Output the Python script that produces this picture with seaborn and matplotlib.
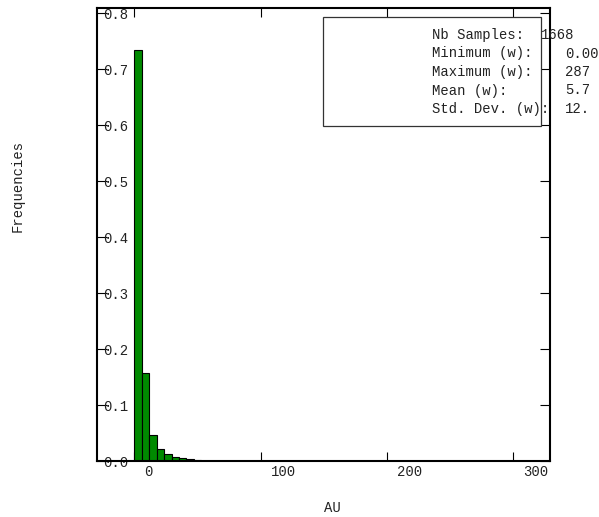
import numpy as np
import pandas as pd
import matplotlib
matplotlib.use("Agg")
import matplotlib.pyplot as plt
import matplotlib.transforms as mtransforms
from matplotlib.patches import Rectangle
import seaborn as sns

# histogram of AU values, 49 bins starting at 0
bin_start = 0.0
bin_width = 5.9
frequencies = [0.735, 0.158, 0.047, 0.0214, 0.0130, 0.0071, 0.0054, 0.0040,
               0.0018, 0.0012, 0.0012, 0.0006, 0.0012, 0.0, 0.0006, 0.0006,
               0.0, 0.0006, 0.0, 0.0, 0.0006, 0.0, 0.0, 0.0, 0.0, 0.0, 0.0,
               0.0, 0.0, 0.0, 0.0, 0.0, 0.0, 0.0, 0.0, 0.0, 0.0, 0.0, 0.0,
               0.0, 0.0, 0.0, 0.0, 0.0, 0.0, 0.0, 0.0, 0.0, 0.0006]
xticks = [0, 100, 200, 300]
yticks = [0.0, 0.1, 0.2, 0.3, 0.4, 0.5, 0.6, 0.7, 0.8]
ytick_labels = ["0.0", "0.1", "0.2", "0.3", "0.4", "0.5", "0.6", "0.7", "0.8"]

stat_names = ["Nb Samples:", "Minimum (w):", "Maximum (w):", "Mean (w):", "Std. Dev. (w):"]
stat_values = ["1668", "0.00", "287", "5.7", "12."]

sns.set_style("ticks")
plt.rcParams['font.family'] = ['Liberation Mono', 'DejaVu Sans Mono']
plt.rcParams['font.size'] = 10

W, H = 599, 517
fig = plt.figure(figsize=(W / 100, H / 100), dpi=100)
ax = fig.add_axes([96.7 / W, 1 - 461.3 / H, (550 - 96.7) / W, (461.3 - 8) / H])

edges = bin_start + bin_width * np.arange(len(frequencies) + 1)
df = pd.DataFrame({"AU": (edges[:-1] + edges[1:]) / 2, "freq": frequencies})
sns.histplot(data=df, x="AU", weights="freq", bins=edges.tolist(), stat="count",
             color="#008a00", edgecolor="black", linewidth=0.8, alpha=1.0, ax=ax)

ax.set_xlim(-29.7, 328.9)
ax.set_ylim(0, 0.8095)
ax.set_xlabel("")
ax.set_ylabel("")

ax.set_xticks(xticks)
ax.set_xticklabels([str(t) for t in xticks], ha="left")
ax.set_yticks(yticks)
ax.set_yticklabels(ytick_labels, ha="left")

ax.tick_params(axis="x", direction="in", length=6.5, width=0.8, pad=3,
               top=True, bottom=True, colors="black", labelcolor="#222222")
ax.tick_params(axis="y", direction="in", length=7, width=0.8, pad=-4.3,
               left=True, right=True, colors="black", labelcolor="#222222")
ax.minorticks_off()

for s in ax.spines.values():
    s.set_linewidth(1.5)
    s.set_color("black")

# x tick labels sit a bit to the right of their ticks
offset = mtransforms.ScaledTranslation(10 / 100, 0, fig.dpi_scale_trans)
for label in ax.xaxis.get_majorticklabels():
    label.set_transform(label.get_transform() + offset)

fig.text(18 / W, 1 - 186 / H, "Frequencies", rotation=90, ha="center", va="center",
         fontsize=10, color="#222222")
fig.text(332 / W, 1 - 508 / H, "AU", ha="center", va="center", fontsize=10, color="#222222")

# statistics box
box = Rectangle((323 / W, 1 - 126 / H), (541 - 323) / W, (126 - 17) / H,
                transform=fig.transFigure, facecolor="white", edgecolor="#333333",
                linewidth=0.9, zorder=5)
fig.patches.append(box)
line_y = [35, 53.5, 72, 90.5, 109]
for name, val, yy in zip(stat_names, stat_values, line_y):
    fig.text(431.7 / W, 1 - yy / H, name, ha="left", va="center", fontsize=10,
             color="#222222", zorder=6)
    vx = 541 if name.startswith("Nb") else 565
    fig.text(vx / W, 1 - yy / H, val, ha="left", va="center", fontsize=10,
             color="#222222", zorder=6)

plt.savefig("out.png", dpi=100)
